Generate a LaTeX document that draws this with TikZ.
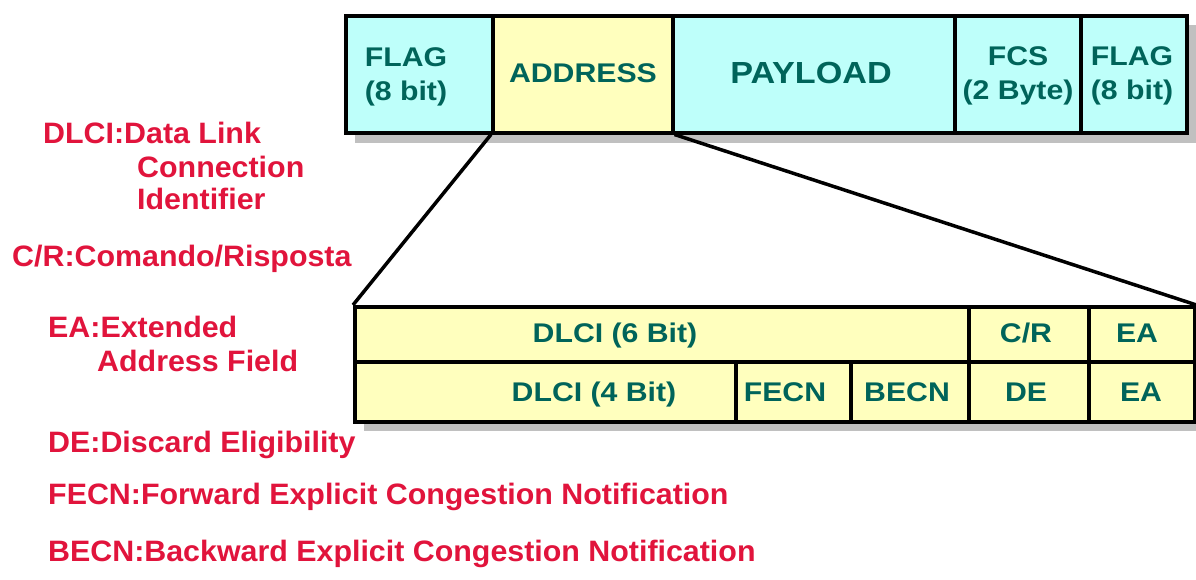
\documentclass[tikz,border=0pt]{standalone}
\usepackage{fontspec}
\newfontfamily\cellfont{Liberation Sans}[FakeStretch=1.12]
\newfontfamily\notefont{Liberation Sans}[FakeStretch=1.03]
\definecolor{cellink}{RGB}{0,100,90}
\definecolor{noteink}{RGB}{225,20,60}
\definecolor{cyanfill}{RGB}{190,255,250}
\definecolor{yellowfill}{RGB}{255,255,190}
\definecolor{shadowgray}{RGB}{192,192,192}
\tikzset{
  cell/.style={draw=black, line width=3.5pt, anchor=north west, inner sep=0pt},
  cyancell/.style={cell, fill=cyanfill},
  yellowcell/.style={cell, fill=yellowfill},
  celltext/.style={text=cellink, inner sep=0pt, align=center, anchor=base,
    font=\cellfont\bfseries\fontsize{27}{34}\selectfont},
  note/.style={text=noteink, inner sep=0pt, anchor=base west,
    font=\notefont\bfseries\fontsize{29.5}{34}\selectfont},
  link/.style={draw=black, line width=3.5pt},
}
\begin{document}
\begin{tikzpicture}[x=1pt, y=-1pt]
\useasboundingbox (0,0) rectangle (1196,579);
\fill[white] (0,0) rectangle (1196,579);

% drop shadows of the two frames
\fill[shadowgray] (355,25) rectangle (1196,143);
\fill[shadowgray] (364,316) rectangle (1196,431);

% frame
\node[cyancell, minimum width=147pt, minimum height=117pt] (flag1) at (344,14) {};
\node[yellowcell, minimum width=180pt, minimum height=117pt] (addr) at (491,14) {};
\node[cyancell, minimum width=282pt, minimum height=117pt] (pay) at (671,14) {};
\node[cyancell, minimum width=126pt, minimum height=117pt] (fcs) at (953,14) {};
\node[cyancell, minimum width=106pt, minimum height=117pt] (flag2) at (1079,14) {};

% two-line labels are placed by the baseline of their last line
\node[celltext] (tflag1) at (406,100) {FLAG\\(8 bit)};
\node[celltext] (taddr) at (583,82) {ADDRESS};
\node[celltext, font=\cellfont\bfseries\fontsize{30.5}{34}\selectfont] (tpay) at (811,83) {PAYLOAD};
\node[celltext] (tfcs) at (1018,99) {FCS\\(2 Byte)};
\node[celltext] (tflag2) at (1132,99) {FLAG\\(8 bit)};

% address field
\node[yellowcell, minimum width=614pt, minimum height=55pt] (d6) at (353,305) {};
\node[yellowcell, minimum width=120pt, minimum height=55pt] (cr) at (967,305) {};
\node[yellowcell, minimum width=106pt, minimum height=55pt] (ea1) at (1087,305) {};
\node[yellowcell, minimum width=381pt, minimum height=60pt] (d4) at (353,360) {};
\node[yellowcell, minimum width=115pt, minimum height=60pt] (fecn) at (734,360) {};
\node[yellowcell, minimum width=118pt, minimum height=60pt] (becn) at (849,360) {};
\node[yellowcell, minimum width=120pt, minimum height=60pt] (de) at (967,360) {};
\node[yellowcell, minimum width=106pt, minimum height=60pt] (ea2) at (1087,360) {};

\node[celltext] (td6) at (615,342) {DLCI (6 Bit)};
\node[celltext] (tcr) at (1026,342) {C/R};
\node[celltext] (tea1) at (1137,342) {EA};
\node[celltext] (td4) at (594,401) {DLCI (4 Bit)};
\node[celltext] (tfecn) at (785,401) {FECN};
\node[celltext] (tbecn) at (907,401) {BECN};
\node[celltext] (tde) at (1026,401) {DE};
\node[celltext] (tea2) at (1141,401) {EA};

% zoom lines from the address cell
\draw[link] (addr.south west) -- (d6.north west);
\draw[link] (addr.south east) -- (ea1.north east);

% legend
\node[note] (n1) at (43,143) {DLCI:Data Link};
\node[note] (n2) at (137,177) {Connection};
\node[note] (n3) at (137,209) {Identifier};
\node[note] (n4) at (12,266) {C/R:Comando/Risposta};
\node[note] (n5) at (48,337) {EA:Extended};
\node[note] (n6) at (97,371) {Address Field};
\node[note] (n7) at (48,452) {DE:Discard Eligibility};
\node[note] (n8) at (48,504) {FECN:Forward Explicit Congestion Notification};
\node[note] (n9) at (48,561) {BECN:Backward Explicit Congestion Notification};
\end{tikzpicture}
\end{document}
